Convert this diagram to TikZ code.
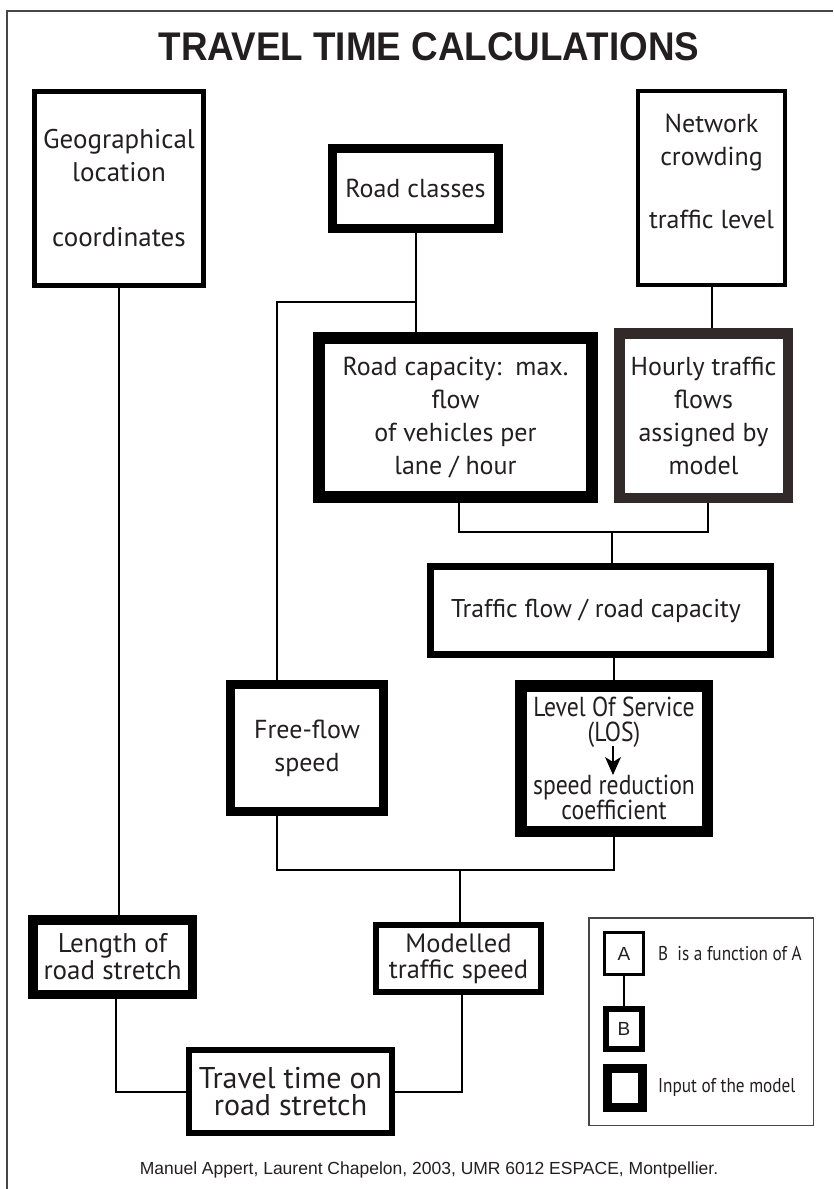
\documentclass[tikz,border=0pt]{standalone}
\usepackage{fontspec}
\setmainfont{PT Sans}
\newfontfamily\titlefont{Liberation Sans}
\newfontfamily\condfont[FakeStretch=0.86]{PT Sans}
\usetikzlibrary{arrows.meta,calc}
\definecolor{txt}{RGB}{35,31,32}
\definecolor{hourlyc}{RGB}{50,42,42}
\definecolor{legc}{RGB}{70,70,70}
\tikzset{
  box/.style={draw, inner sep=0pt, align=center, text=txt, font=\fontsize{26}{33}\selectfont},
  wire/.style={line width=2pt, draw=black},
}
\begin{document}
\begin{tikzpicture}[x=1pt,y=-1pt]
\useasboundingbox (0,0) rectangle (833,1189);
% frame
\draw[line width=1.5pt, draw=legc] (7,1189) -- (7,11) -- (833,11);
% title
\node[text=txt] (title) at (429,47) {\scalebox{0.92}[1]{\titlefont\bfseries\fontsize{40}{40}\selectfont TRAVEL TIME CALCULATIONS}};
% boxes
\node[box, line width=5pt, minimum width=169pt, minimum height=194pt, font=\fontsize{27}{33}\selectfont] (geo) at (119,188.5) {Geographical\\location\\[32pt]coordinates};
\node[box, line width=9pt, minimum width=166pt, minimum height=80pt] (rc) at (415.5,188.5) {Road classes};
\node[box, line width=4pt, minimum width=147pt, minimum height=194pt] (net) at (711.5,188) {Network\\crowding\\[30pt]traffic level\\ };
\node[box, line width=12pt, minimum width=273pt, minimum height=159pt] (cap) at (455.5,417.5) {Road capacity:\ \ max.\\flow\\of vehicles per\\lane / hour};
\node[box, line width=10.5pt, draw=hourlyc, minimum width=168.5pt, minimum height=164.5pt] (hourly) at (703.5,415.5) {Hourly traffic\\flows\\assigned by\\model};
\node[box, line width=7pt, minimum width=340pt, minimum height=88pt, font=\fontsize{25.7}{33}\selectfont] (ratio) at (600.5,610.5) {\hspace*{-9pt}Traffic flow / road capacity};
\node[box, line width=9pt, minimum width=153pt, minimum height=127pt] (ff) at (307,748) {Free-flow\\speed};
\node[box, line width=11.5pt, minimum width=186.5pt, minimum height=145.5pt, font=\condfont\fontsize{27.5}{25}\selectfont] (los) at (614,758.5) {Level Of Service\\(LOS)\\[27pt]speed reduction\\coefficient};
\node[box, line width=9.5pt, minimum width=159.5pt, minimum height=74.5pt, font=\fontsize{27}{27}\selectfont] (len) at (112.5,957) {Length of\\road stretch};
\node[box, line width=6pt, minimum width=165pt, minimum height=67pt, font=\fontsize{26.5}{26}\selectfont] (mod) at (458.5,958.5) {Modelled\\traffic speed};
\node[box, line width=6pt, minimum width=203pt, minimum height=83pt, font=\fontsize{30}{27}\selectfont] (tt) at (290.5,1091.5) {Travel time on\\road stretch};
% LOS inner arrow
\coordinate (losA) at (613,746);
\coordinate (losB) at (613,775);
\draw[line width=1.2pt, -{Stealth[length=18pt,width=16pt,inset=5pt]}] (losA) -- (losB);
% connectors
\draw[wire] (geo.south) -- (geo.south |- len.north);
\draw[wire] (rc.south) -- (rc.south |- cap.north);
\coordinate (j1) at (415.5,302);
\draw[wire] (j1) -| ([xshift=-30pt]ff.north);
\draw[wire] (net.south) -- (net.south |- hourly.north);
\coordinate (j2) at (612,532);
\draw[wire] ([xshift=3.5pt]cap.south) |- (j2) -| ([xshift=4.5pt]hourly.south);
\draw[wire] (j2) -- (j2 |- ratio.north);
\draw[wire] (los.north) -- (los.north |- ratio.south);
\coordinate (j3) at (460,870);
\draw[wire] ([xshift=-30pt]ff.south) |- (j3) -| (los.south);
\draw[wire] (j3) -- (j3 |- mod.north);
\draw[wire] ([xshift=3.5pt]len.south) |- (tt.west);
\draw[wire] ([xshift=3.5pt]mod.south) |- (tt.east);
% legend
\node[draw=legc, line width=1.5pt, minimum width=224.5pt, minimum height=207.5pt, inner sep=0pt] (legend) at (701,1021.5) {};
\node[box, line width=3pt, minimum width=39pt, minimum height=42pt, font=\titlefont\fontsize{19}{19}\selectfont] (A) at (624,953.5) {A};
\node[box, line width=6pt, minimum width=36pt, minimum height=40pt, font=\titlefont\fontsize{19}{19}\selectfont] (B) at (624,1029) {B};
\node[box, line width=9pt, minimum width=35pt, minimum height=39pt] (inp) at (625,1088) {};
\draw[wire] (A.south) -- (B.north);
\node[anchor=west, text=txt, font=\condfont\fontsize{20}{20}\selectfont, inner sep=0pt] (legA) at (658,953) {B\ \ is a function of A};
\node[anchor=west, text=txt, font=\condfont\fontsize{20}{20}\selectfont, inner sep=0pt] (legI) at (658,1087) {Input of the model};
% footer
\node[text=txt] (foot) at (429,1170) {\titlefont\fontsize{17.5}{17.5}\selectfont Manuel Appert, Laurent Chapelon, 2003, UMR 6012 ESPACE, Montpellier.};
\end{tikzpicture}
\end{document}
